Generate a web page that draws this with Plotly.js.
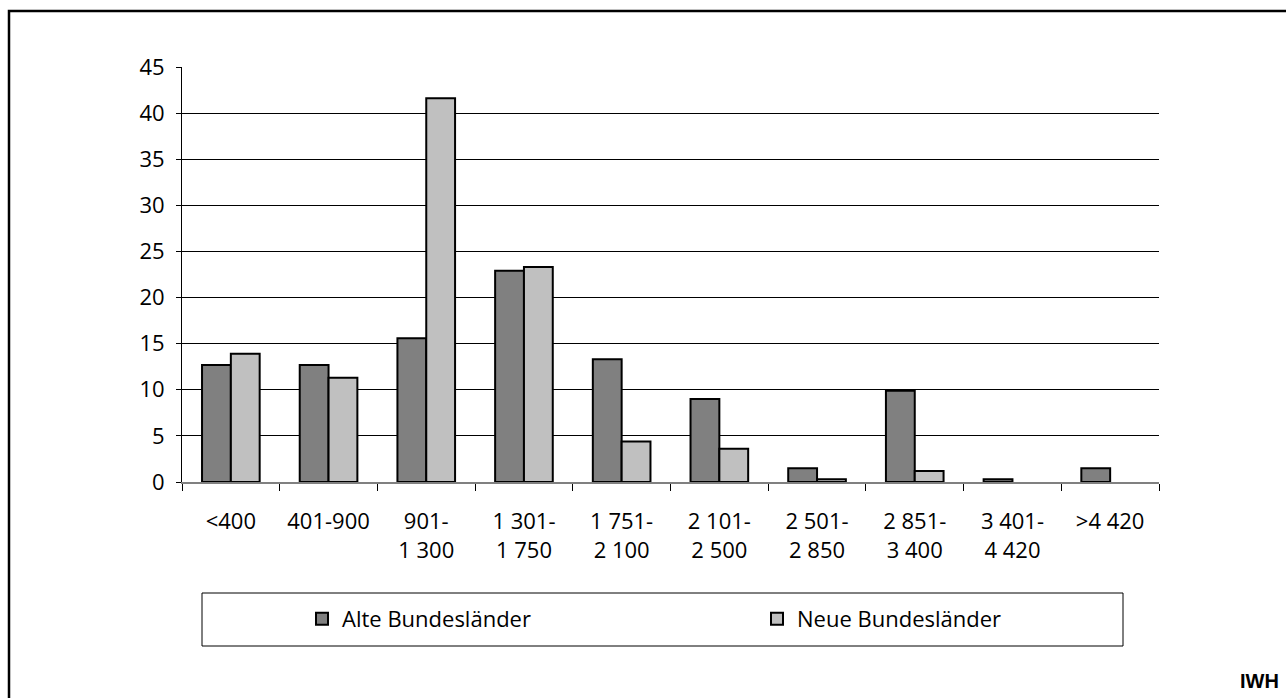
<!DOCTYPE html>
<html>
<head>
<meta charset="utf-8">
<script src="https://cdn.plot.ly/plotly-3.0.1.min.js"></script>
<style>
html,body{margin:0;padding:0;background:#fff;}
#chart{width:1286px;height:698px;}
</style>
</head>
<body>
<div id="chart"></div>
<script>
const categories = ["&lt;400","401-900","901-<br>1 300","1 301-<br>1 750","1 751-<br>2 100","2 101-<br>2 500","2 501-<br>2 850","2 851-<br>3 400","3 401-<br>4 420","&gt;4 420"];
const alteValues = [12.7, 12.7, 15.6, 22.9, 13.3, 9.0, 1.5, 9.9, 0.3, 1.5];
const neueValues = [13.9, 11.3, 41.6, 23.3, 4.4, 3.6, 0.3, 1.2, null, null];
const seriesNames = ["Alte Bundesländer", "Neue Bundesländer"];
const yTicks = [0,5,10,15,20,25,30,35,40,45];
const sourceLabel = "IWH";

const W = 1286, H = 698;
const ml = 182, mr = 127, mt = 67, mb = 216;
const pw = W - ml - mr, ph = H - mt - mb;
const px = x => (x - ml) / pw;
const py = y => (H - mb - y) / ph;

const font = "Open Sans, Noto Sans, DejaVu Sans, sans-serif";

const traces = [
  {type:"bar", x:categories, y:alteValues, name:seriesNames[0],
   marker:{color:"#808080", line:{color:"#000", width:2}}, legend:"legend"},
  {type:"bar", x:categories, y:neueValues, name:seriesNames[1],
   marker:{color:"#c0c0c0", line:{color:"#000", width:2}}, legend:"legend2"}
];

const layout = {
  width:W, height:H,
  margin:{l:ml, r:mr, t:mt, b:mb, pad:0},
  paper_bgcolor:"#fff", plot_bgcolor:"#fff",
  font:{family:font, size:22, color:"#000"},
  barmode:"group", bargap:0.41, bargroupgap:0,
  showlegend:true,
  xaxis:{type:"category", tickson:"boundaries", ticks:"outside", ticklen:7, tickcolor:"#000",
         showline:true, linecolor:"#808080", linewidth:1.5, showgrid:false, zeroline:false,
         tickfont:{family:font, size:22, color:"#000"}, ticklabelstandoff:19, fixedrange:true},
  yaxis:{range:[0,45], tickvals:yTicks, ticks:"outside", ticklen:5, tickcolor:"#000",
         showline:true, linecolor:"#000", linewidth:1, showgrid:true, gridcolor:"#000", gridwidth:1,
         zeroline:false, tickfont:{family:font, size:22, color:"#000"}, ticklabelstandoff:7, fixedrange:true},
  legend:{orientation:"h", x:px(302), y:py(619), xanchor:"left", yanchor:"middle",
          bgcolor:"rgba(0,0,0,0)", borderwidth:0, font:{family:font, size:22, color:"#000"}},
  legend2:{orientation:"h", x:px(757), y:py(619), xanchor:"left", yanchor:"middle",
          bgcolor:"rgba(0,0,0,0)", borderwidth:0, font:{family:font, size:22, color:"#000"}},
  shapes:[
    {type:"rect", xref:"paper", yref:"paper", x0:px(9), x1:px(1300), y0:py(11), y1:py(720),
     line:{color:"#000", width:2.5}, fillcolor:"rgba(0,0,0,0)", layer:"above"},
    {type:"rect", xref:"paper", yref:"paper", x0:px(202), x1:px(1123), y0:py(593), y1:py(646),
     line:{color:"#000", width:1}, fillcolor:"rgba(0,0,0,0)"}
  ],
  annotations:[
    {text:"<b>"+sourceLabel+"</b>", xref:"paper", yref:"paper", x:px(1281), y:py(681),
     xanchor:"right", yanchor:"middle", showarrow:false,
     font:{family:"Liberation Sans, Arial, sans-serif", size:20, color:"#000"}}
  ]
};

Plotly.newPlot("chart", traces, layout, {displayModeBar:false, staticPlot:true});
</script>
</body>
</html>
